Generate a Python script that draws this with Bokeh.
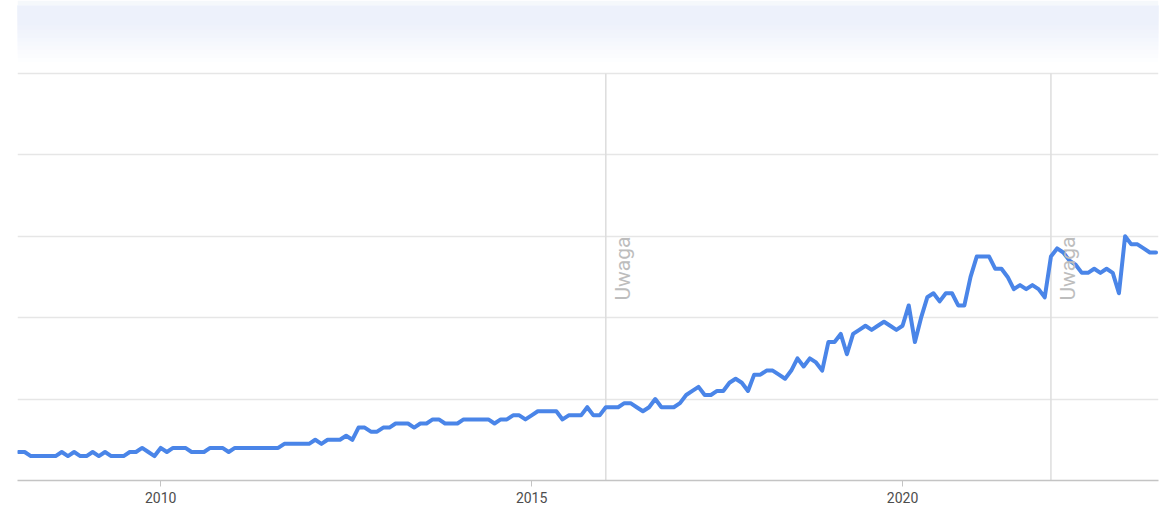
import math
from bokeh.plotting import figure
from bokeh.models import Range1d, FixedTicker, BoxAnnotation
from bokeh.core.properties import value
from bokeh.embed import file_html
from bokeh.resources import INLINE

# ---- data (monthly search interest, Feb 2008 .. Jun 2023) ----
start_year = 2008
start_month = 2
interest = [
    # 2008 (Feb-Dec)
    7, 7, 6, 6, 6, 6, 6, 7, 6, 7, 6,
    # 2009
    6, 7, 6, 7, 6, 6, 6, 7, 7, 8, 7, 6,
    # 2010
    8, 7, 8, 8, 8, 7, 7, 7, 8, 8, 8, 7,
    # 2011
    8, 8, 8, 8, 8, 8, 8, 8, 9, 9, 9, 9,
    # 2012
    9, 10, 9, 10, 10, 10, 11, 10, 13, 13, 12, 12,
    # 2013
    13, 13, 14, 14, 14, 13, 14, 14, 15, 15, 14, 14,
    # 2014
    14, 15, 15, 15, 15, 15, 14, 15, 15, 16, 16, 15,
    # 2015
    16, 17, 17, 17, 17, 15, 16, 16, 16, 18, 16, 16,
    # 2016
    18, 18, 18, 19, 19, 18, 17, 18, 20, 18, 18, 18,
    # 2017
    19, 21, 22, 23, 21, 21, 22, 22, 24, 25, 24, 22,
    # 2018
    26, 26, 27, 27, 26, 25, 27, 30, 28, 30, 29, 27,
    # 2019
    34, 34, 36, 31, 36, 37, 38, 37, 38, 39, 38, 37,
    # 2020
    38, 43, 34, 40, 45, 46, 44, 46, 46, 43, 43, 50,
    # 2021
    55, 55, 55, 52, 52, 50, 47, 48, 47, 48, 47, 45,
    # 2022
    55, 57, 56, 54, 53, 51, 51, 52, 51, 52, 51, 46,
    # 2023 (Jan-Jun)
    60, 58, 58, 57, 56, 56,
]
tick_years = [2010, 2015, 2020]
grid_values = [0, 20, 40, 60, 80, 100]
note_years = [2016, 2022]
note_label = "Uwaga"

months = [start_year + (start_month - 1 + i) / 12 for i in range(len(interest))]

p = figure(width=1168, height=513, output_backend="svg", toolbar_location=None,
           x_range=Range1d(2008.07, 2023.45), y_range=Range1d(0, 117.9),
           min_border_left=17, min_border_right=10, min_border_top=0,
           min_border_bottom=33)
p.outline_line_color = None
p.background_fill_color = "white"
p.border_fill_color = "white"

# header band (light blue fading to white); overlapping boxes, lightest first
band_top = 116.7
band_bottom = 102.8
steps = 14
c0 = (237, 241, 251)
for k in reversed(range(steps)):
    lo = band_top - (band_top - band_bottom) * (k + 1) / steps
    f = 0 if k < 5 else (k - 4) / (steps - 4)
    col = tuple(int(round(c + (255 - c) * f)) for c in c0)
    p.add_layout(BoxAnnotation(top=band_top, bottom=lo,
                               fill_color="#%02x%02x%02x" % col,
                               fill_alpha=1, line_color=None, level="underlay"))
p.add_layout(BoxAnnotation(bottom=band_top - 0.05, fill_color="#f5f8fb", fill_alpha=1,
                           line_color=None, level="underlay"))

# axes / grid
p.yaxis.visible = False
p.ygrid.ticker = FixedTicker(ticks=grid_values)
p.ygrid.grid_line_color = "#e6e6e6"
p.ygrid.grid_line_width = 1.5
p.xgrid.visible = False

p.xaxis.ticker = FixedTicker(ticks=tick_years)
p.xaxis.axis_line_color = "#c4c4c4"
p.xaxis.axis_line_width = 1.5
p.xaxis.major_tick_line_color = "#c4c4c4"
p.xaxis.major_tick_in = 0
p.xaxis.major_tick_out = 6
p.xaxis.minor_tick_line_color = None
p.xaxis.major_label_text_font = "Roboto"
p.xaxis.major_label_text_font_size = "14px"
p.xaxis.major_label_text_color = "#4d4d4d"
p.xaxis.major_label_standoff = 5

# annotation lines (span the plotting area only, 0..100)
p.segment(x0=note_years, y0=[grid_values[0]] * len(note_years),
          x1=note_years, y1=[grid_values[-1]] * len(note_years),
          line_color="#dddddd", line_width=1.5)

p.line(months, interest, line_color="#4a85e8", line_width=4,
       line_join="round", line_cap="round")

p.text(x=note_years, y=[44.2] * len(note_years), text=[note_label] * len(note_years),
       angle=math.pi / 2, text_align="left", text_baseline="top", x_offset=5,
       text_font=value("Roboto"), text_font_size="21px", text_color="#bdbdbd")

open("out.html", "w").write(file_html(p, INLINE))
